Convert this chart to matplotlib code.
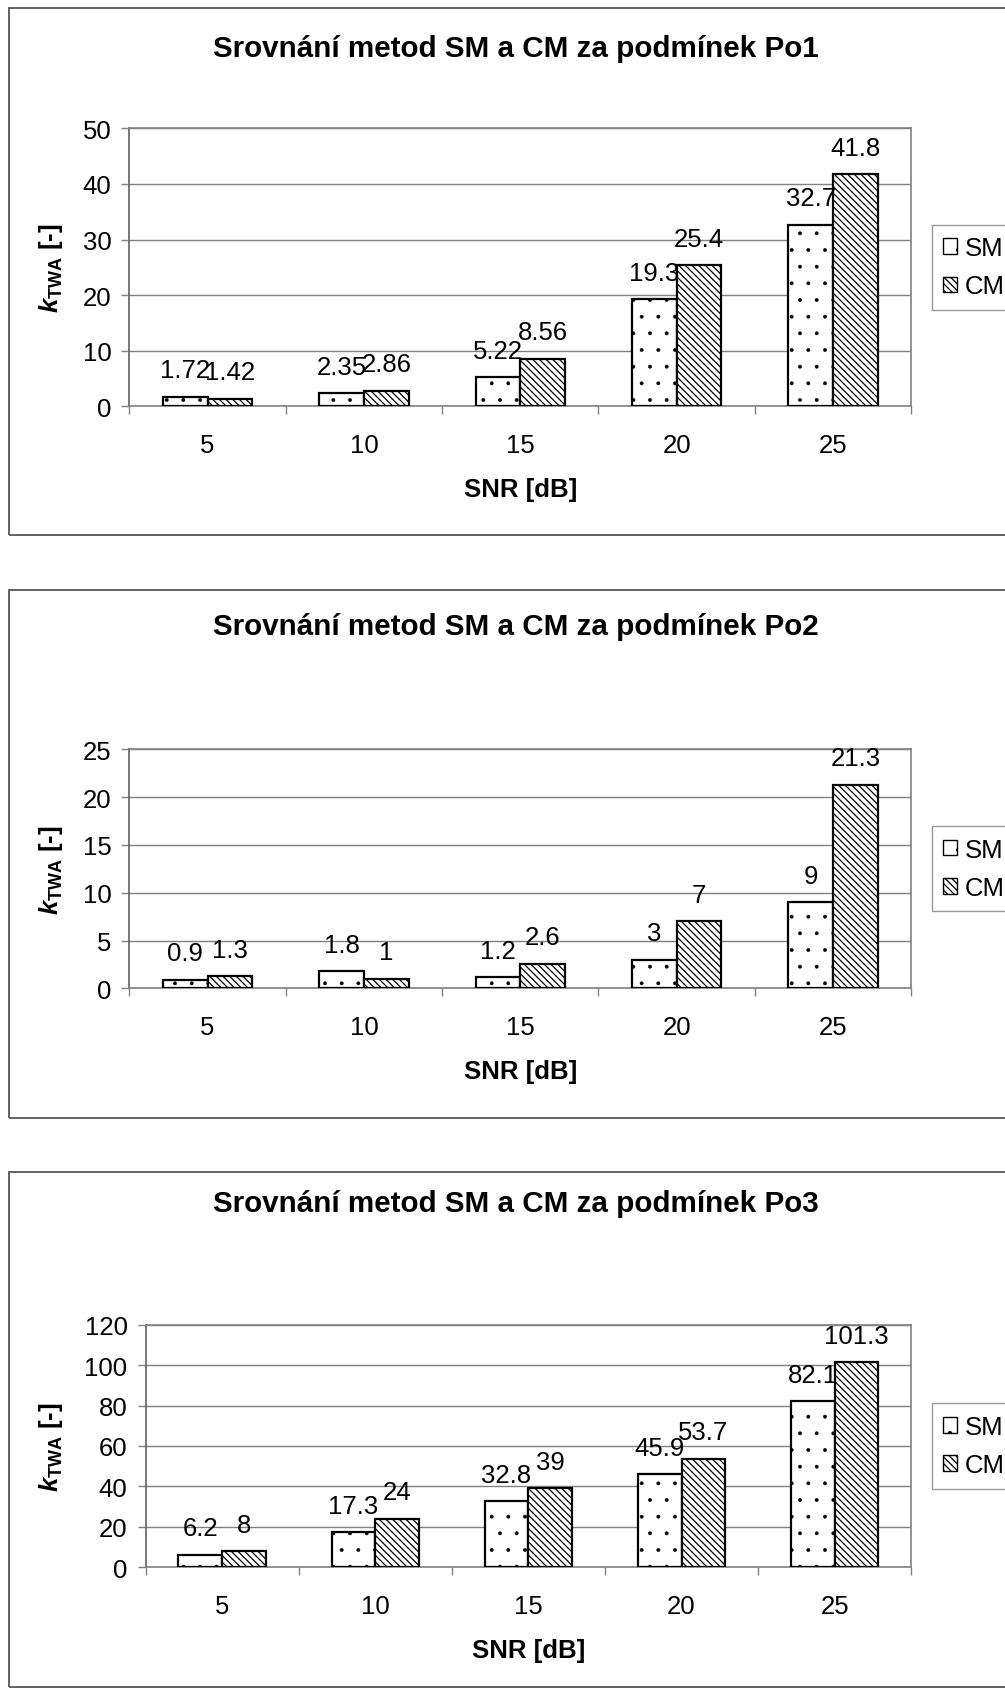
import numpy as np
import matplotlib.pyplot as plt
from matplotlib.patches import Rectangle

plt.rcParams['font.family'] = ['Liberation Sans', 'DejaVu Sans']
plt.rcParams['mathtext.fontset'] = 'custom'
plt.rcParams['mathtext.rm'] = 'Liberation Sans:bold'
plt.rcParams['mathtext.it'] = 'Liberation Sans:italic:bold'
plt.rcParams['hatch.linewidth'] = 0.9

# data
snr = [5, 10, 15, 20, 25]
sm_po1 = [1.72, 2.35, 5.22, 19.3, 32.7]
cm_po1 = [1.42, 2.86, 8.56, 25.4, 41.8]
sm_po2 = [0.9, 1.8, 1.2, 3, 9]
cm_po2 = [1.3, 1, 2.6, 7, 21.3]
sm_po3 = [6.2, 17.3, 32.8, 45.9, 82.1]
cm_po3 = [8, 24, 39, 53.7, 101.3]
titles = ['Srovnání metod SM a CM za podmínek Po1',
          'Srovnání metod SM a CM za podmínek Po2',
          'Srovnání metod SM a CM za podmínek Po3']
series = [(sm_po1, cm_po1), (sm_po2, cm_po2), (sm_po3, cm_po3)]
ymax = [50, 25, 120]
ystep = [10, 5, 20]

# layout in reference pixels (932 x 1568 grid)
W, H = 932.0, 1568.0
fx = lambda x: x / W
fy = lambda y: 1 - y / H
# box top, box bottom, title y, axes l,t,r,b, xlabel y
lay = [(8, 497, 45, 120, 120, 845, 378, 455),
       (548, 1038, 582, 120, 696, 845, 918, 995),
       (1088, 1566, 1117, 135, 1230, 845, 1455, 1532)]

FS = 18.5
grey = '#808080'
fig = plt.figure(figsize=(10.05, 16.9), dpi=100)

for k in range(3):
    bt, bb, ty, l, t, r, b, xly = lay[k]
    fig.add_artist(Rectangle((fx(8), fy(bb)), 1.2, (bb - bt) / H,
                             transform=fig.transFigure, fill=False,
                             edgecolor='#555555', lw=1.3))
    ax = fig.add_axes([fx(l), fy(b), (r - l) / W, (b - t) / H])
    sm, cm = series[k]
    x = np.arange(len(snr))
    w = 1 / 3.5
    b1 = ax.bar(x - w / 2, sm, w, color='white', edgecolor='black', lw=1.6,
                hatch='.', label='SM', zorder=3)
    b2 = ax.bar(x + w / 2, cm, w, color='white', edgecolor='black', lw=1.6,
                hatch='\\\\\\\\\\', label='CM', zorder=3)
    for p in b1:
        if hasattr(p, 'set_hatch_linewidth'):
            p.set_hatch_linewidth(0.3)
    for xs, vals in ((x - w / 2, sm), (x + w / 2, cm)):
        for xi, v in zip(xs, vals):
            ax.annotate(f'{v:g}', (xi, v), xytext=(0, 19), textcoords='offset points',
                        ha='center', va='center', fontsize=FS, zorder=4)
    ax.set_xlim(-0.5, len(snr) - 0.5)
    ax.set_ylim(0, ymax[k])
    ax.set_yticks(np.arange(0, ymax[k] + 1, ystep[k]))
    ax.set_xticks(x)
    ax.set_xticklabels([str(s) for s in snr])
    ax.set_xticks(np.arange(-0.5, len(snr)), minor=True)
    ax.tick_params(axis='x', which='major', length=0, pad=19, labelsize=FS)
    ax.tick_params(axis='x', which='minor', length=6, color=grey, width=1)
    ax.tick_params(axis='y', length=6, color=grey, width=1, pad=7, labelsize=FS)
    ax.yaxis.grid(True, color=grey, lw=1, zorder=0)
    ax.set_axisbelow(True)
    for s in ax.spines.values():
        s.set_color(grey)
        s.set_linewidth(1.2)
    ax.spines['left'].set_color('#606060')
    fig.text(fx(478), fy(ty), titles[k], ha='center', va='center',
             fontsize=21.3, fontweight='bold')
    fig.text(fx((l + r) / 2), fy(xly), 'SNR [dB]', ha='center', va='center',
             fontsize=FS, fontweight='bold')
    fig.text(fx(47), fy((t + b) / 2), r'$k_{\mathrm{TWA}}$ [-]', rotation=90,
             ha='center', va='center', fontsize=FS, fontweight='bold')
    leg = ax.legend(loc='center left', bbox_to_anchor=(fx(864), fy((t + b) / 2)),
                    bbox_transform=fig.transFigure, fontsize=FS, frameon=True,
                    fancybox=False, handlelength=0.55, handleheight=0.55,
                    handletextpad=0.3, labelspacing=0.55, borderpad=0.45,
                    borderaxespad=0)
    leg.get_frame().set_edgecolor(grey)
    leg.get_frame().set_linewidth(1.0)
    for h in leg.legend_handles:
        h.set_linewidth(1.0)

fig.savefig('out.png', dpi=100)
